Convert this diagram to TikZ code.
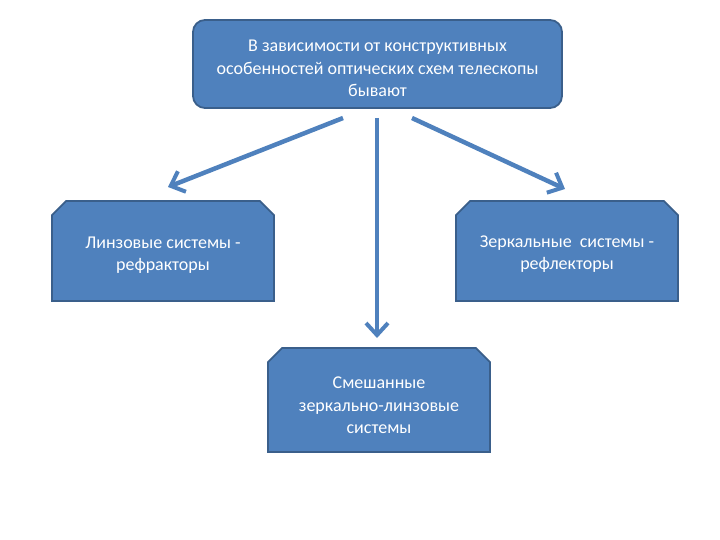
\documentclass[tikz,border=0pt]{standalone}
\usepackage{fontspec}
\setmainfont{Carlito}
\usetikzlibrary{shapes.misc,arrows.meta}
\definecolor{boxfill}{HTML}{4F81BD}
\definecolor{boxdraw}{HTML}{3A5F8B}
\newcommand\lowerby[1]{\rule{0pt}{#1}}
\begin{document}
\begin{tikzpicture}[x=1pt,y=-1pt,
  every node/.style={font=\fontsize{18}{22.5}\selectfont, text=white, align=center},
  topbox/.style={draw=boxdraw, fill=boxfill, line width=1.8pt, rounded corners=12pt, minimum width=369pt, minimum height=88pt, inner sep=0pt},
  catbox/.style={chamfered rectangle, chamfered rectangle corners={north west,north east}, chamfered rectangle xsep=11pt, draw=boxdraw, fill=boxfill, line width=1.8pt, minimum width=222pt, minimum height=100pt, inner sep=0pt},
  link/.style={draw=boxfill, line width=4.5pt, -{Straight Barb[length=12pt,width=22pt,line width=4pt]}}
]
\useasboundingbox (0,0) rectangle (720,540);
\node[topbox] (top) at (377.5,64) {\lowerby{21pt}В зависимости от конструктивных\\особенностей оптических схем телескопы\\бывают};
\node[catbox] (left) at (163,251) {\lowerby{20pt}Линзовые системы -\\рефракторы};
\node[catbox] (right) at (567,251) {\lowerby{18pt}Зеркальные\ \ системы -\\рефлекторы};
\node[catbox, minimum height=104pt] (mid) at (379,400) {\lowerby{23pt}Смешанные\\зеркально-линзовые\\системы};
\coordinate (l0) at (343,118);
\coordinate (l1) at (168,187);
\coordinate (m0) at (377,118);
\coordinate (m1) at (377,338);
\coordinate (r0) at (412,118);
\coordinate (r1) at (565,189);
\draw[link] (l0) -- (l1);
\draw[link] (m0) -- (m1);
\draw[link] (r0) -- (r1);
\end{tikzpicture}
\end{document}
